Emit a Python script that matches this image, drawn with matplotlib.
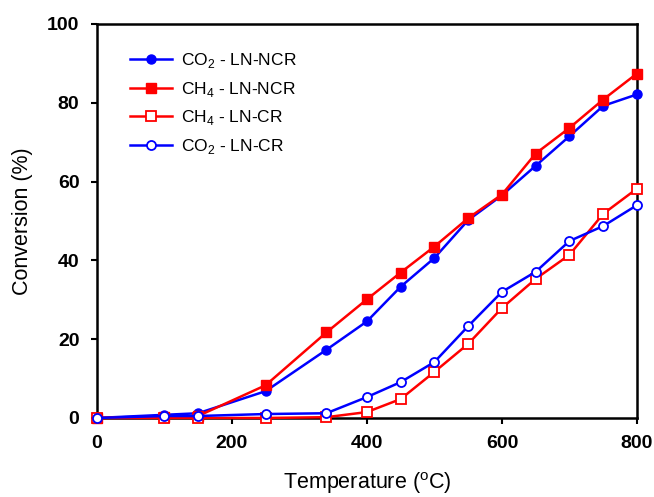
import matplotlib
matplotlib.use("Agg")
import matplotlib.pyplot as plt

plt.rcParams["font.family"] = ["Liberation Sans", "DejaVu Sans"]
plt.rcParams["mathtext.fontset"] = "custom"
plt.rcParams["mathtext.rm"] = "Liberation Sans"
plt.rcParams["mathtext.bf"] = "Liberation Sans:bold"

temperature = [0, 100, 150, 250, 340, 400, 450, 500, 550, 600, 650, 700, 750, 800]

co2_ln_ncr = [0, 0.8, 1.2, 6.8, 17.3, 24.5, 33.3, 40.6, 50.2, 56.5, 64.0, 71.5, 79.2, 82.1]
ch4_ln_ncr = [0, 0.3, 0.5, 8.3, 21.7, 30.1, 36.9, 43.5, 50.7, 56.7, 67.1, 73.6, 80.8, 87.4]
ch4_ln_cr = [0, 0, 0, 0, 0.2, 1.5, 4.8, 11.7, 18.8, 27.9, 35.3, 41.4, 51.8, 58.2]
co2_ln_cr = [0, 0.5, 0.5, 1.0, 1.2, 5.3, 9.1, 14.2, 23.3, 32.0, 37.1, 44.9, 48.7, 54.0]

BLUE = "#0000ff"
RED = "#ff0000"

fig = plt.figure(figsize=(6.54, 4.97), dpi=100)
ax = fig.add_axes([0.148, 0.159, 0.826, 0.793])

style = dict(lw=1.8, ms=6.5, clip_on=False, zorder=3)
ax.plot(temperature, co2_ln_ncr, "-o", color=BLUE, label="CO$_2$ - LN-NCR", **style)
ax.plot(temperature, ch4_ln_ncr, "-s", color=RED, label="CH$_4$ - LN-NCR", **style)
ax.plot(temperature, ch4_ln_cr, "-s", color=RED, mfc="white", mec=RED, mew=1.3,
        label="CH$_4$ - LN-CR", **style)
ax.plot(temperature, co2_ln_cr, "-o", color=BLUE, mfc="white", mec=BLUE, mew=1.3,
        label="CO$_2$ - LN-CR", **style)

ax.set_xlim(0, 800)
ax.set_ylim(0, 100)
ax.set_xticks([0, 200, 400, 600, 800])
ax.set_yticks([0, 20, 40, 60, 80, 100])

for s in ax.spines.values():
    s.set_linewidth(1.8)
ax.tick_params(direction="out", width=1.5, length=4.5, labelsize=14, pad=8)
for lbl in ax.get_xticklabels() + ax.get_yticklabels():
    lbl.set_fontweight("bold")

ax.set_xlabel("Temperature ($^{\\mathrm{o}}$C)", fontsize=15.5, labelpad=13)
ax.set_ylabel("Conversion (%)", fontsize=15.5, labelpad=10)

ax.legend(loc="upper left", bbox_to_anchor=(0.033, 0.97), frameon=False,
          fontsize=12.5, handlelength=2.4, handletextpad=0.5, labelspacing=0.55)

fig.savefig("out.png", dpi=100)
